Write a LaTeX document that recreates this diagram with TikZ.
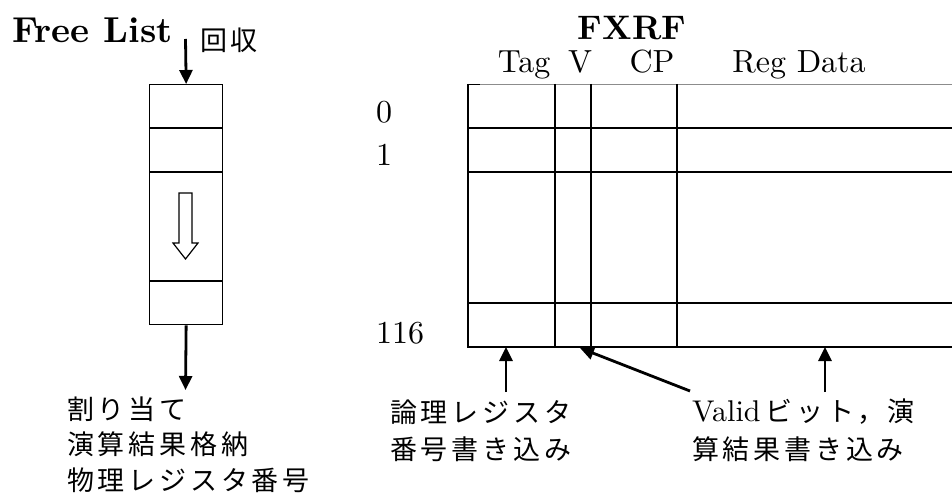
\documentclass[tikz,border=0pt]{standalone}
\usepackage{fontspec}
\setmainfont{lmroman10}[Extension=.otf,UprightFont=*-regular,BoldFont=*-bold]
\newfontfamily\jp[LetterSpace=14]{Noto Sans CJK JP}
\usetikzlibrary{arrows.meta}
\begin{document}
\begin{tikzpicture}[x=1pt,y=-1pt,
  arr/.style={line width=2.8pt,-{Triangle[length=14pt,width=13pt]}},
  cell/.style={line width=1.3pt},
  thin/.style={line width=0.8pt,black!45},
  bigb/.style={inner sep=0pt,anchor=base west,font=\fontsize{36}{42}\selectfont\bfseries},
  lbl/.style={inner sep=0pt,anchor=base,font=\fontsize{32}{36}\selectfont},
  lblw/.style={inner sep=0pt,anchor=base west,font=\fontsize{32}{36}\selectfont},
  jtxt/.style={inner sep=0pt,anchor=west,font=\fontsize{27}{31}\selectfont\jp}]
\useasboundingbox (0,0) rectangle (952,500);

% ---------- Free List ----------
\node[bigb] (fltitle) at (12,43) {Free List};
\node[jtxt] (recvtxt) at (200,40) {回収};
\coordinate (recv) at (185.5,39);
\node[draw,cell,minimum width=73pt,minimum height=240pt,inner sep=0pt,anchor=north west] (fl) at (149,84) {};
\draw[cell] (149,128) -- (222,128);
\draw[cell] (149,172) -- (222,172);
\draw[cell] (149,281) -- (222,281);
\draw[arr] (recv) -- (fl.north);
% hollow arrow
\draw[line width=1.2pt] (179,193) -- (192,193) -- (192,243) -- (198,243) -- (185.5,259)
  -- (173,243) -- (179,243) -- cycle;
\coordinate (alloc) at (185.5,390);
\draw[arr] (fl.south) -- (alloc);
\node[jtxt] (a1) at (67,409) {割り当て};
\node[jtxt] (a2) at (67,444) {演算結果格納};
\node[jtxt] (a3) at (67,480) {物理レジスタ番号};

% ---------- FXRF ----------
\node[inner sep=0pt,anchor=base,font=\fontsize{34}{40}\selectfont\bfseries] (fxrf) at (632,40) {FXRF};
\node[lbl] (hTag) at (524,73) {Tag};
\node[lbl] (hV) at (580,73) {V};
\node[lbl] (hCP) at (652,73) {CP};
\node[lbl] (hReg) at (799,73) {Reg Data};
\node[lblw] (r0) at (376,122) {0};
\node[lblw] (r1) at (376,165) {1};
\node[lblw] (r116) at (376,343) {116};

% table lines
\draw[thin] (468,84) -- (952,84);
\draw[cell] (468,84.5) -- (480,84.5);
\draw[cell] (468,84) -- (468,347) -- (952,347);
\foreach \yy in {128,172,303} \draw[cell] (468,\yy) -- (952,\yy);
\foreach \xx in {555,591,677} \draw[cell] (\xx,84) -- (\xx,347);

\coordinate (tTag) at (506,347);
\coordinate (tV) at (580,348);
\coordinate (tReg) at (825,347);
\coordinate (sTag) at (506,392);
\coordinate (sV) at (690,391);
\coordinate (sReg) at (825,392);
\draw[arr] (sTag) -- (tTag);
\draw[arr] (sV) -- (tV);
\draw[arr] (sReg) -- (tReg);

\node[jtxt] (b1) at (390,412) {論理レジスタ};
\node[jtxt] (b2) at (390,449) {番号書き込み};
\node[inner sep=0pt,anchor=west] (c1) at (692,412) {\fontsize{30}{34}\selectfont Valid\,{\fontsize{27}{31}\selectfont\jp ビット，演}};
\node[jtxt] (c2) at (692,449) {算結果書き込み};
\end{tikzpicture}
\end{document}
